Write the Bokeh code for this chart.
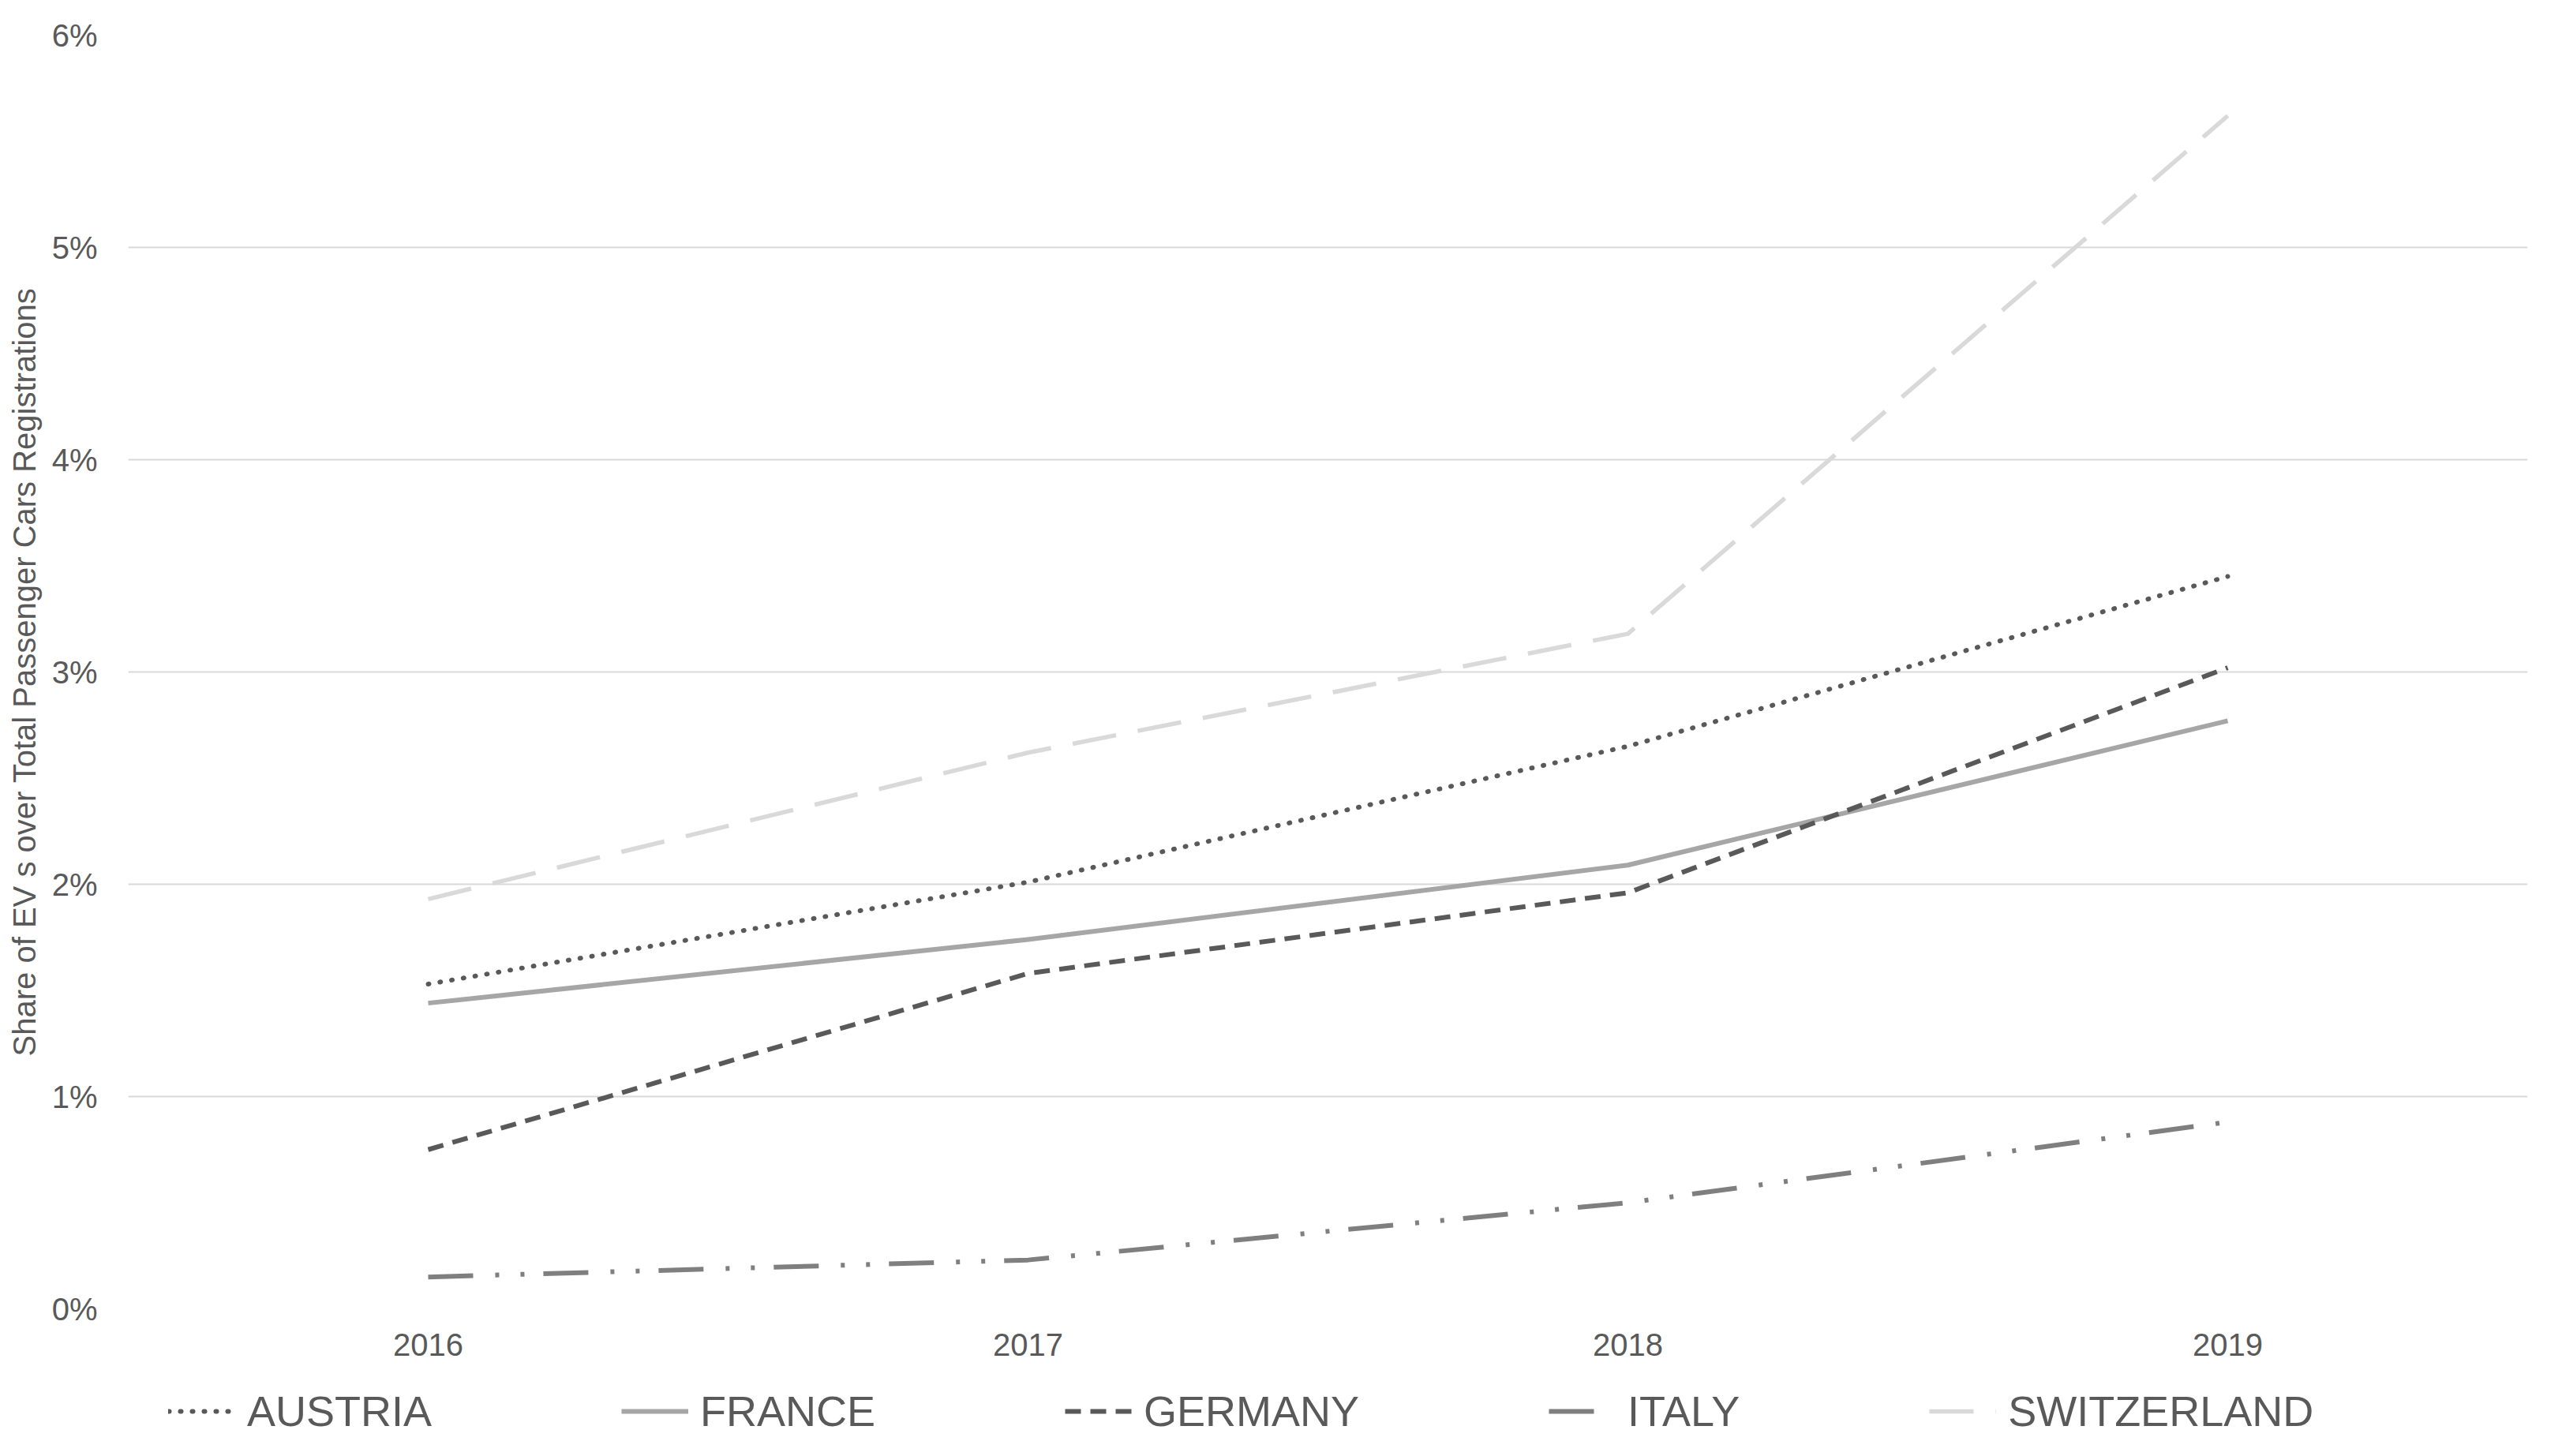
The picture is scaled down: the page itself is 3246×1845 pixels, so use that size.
from bokeh.plotting import figure
from bokeh.layouts import column
from bokeh.models import (Legend, LegendItem, FactorRange, Range1d, FixedTicker,
                          PrintfTickFormatter)
from bokeh.embed import file_html
from bokeh.resources import INLINE

# ---- data (percent share of EVs) ----
years = ["2016", "2017", "2018", "2019"]
austria = [1.53, 2.01, 2.65, 3.45]
france = [1.44, 1.74, 2.09, 2.77]
germany = [0.75, 1.58, 1.96, 3.02]
italy = [0.15, 0.23, 0.50, 0.88]
switzerland = [1.93, 2.62, 3.18, 5.62]
y_ticks = [0, 1, 2, 3, 4, 5, 6]
series_names = ["AUSTRIA", "FRANCE", "GERMANY", "ITALY", "SWITZERLAND"]
y_label = "Share of EV s over Total Passenger Cars Registrations"

FONT = "Liberation Sans"
TXT = "#595959"

W, H1, H2 = 3240, 1740, 100
p = figure(width=W, height=H1, output_backend="svg", toolbar_location=None,
           x_range=FactorRange(*years), y_range=Range1d(0, 6),
           min_border_left=162, min_border_right=38, min_border_top=44,
           min_border_bottom=82)
p.outline_line_color = None
p.background_fill_color = "white"
p.border_fill_color = "white"

# y axis
p.yaxis.ticker = FixedTicker(ticks=y_ticks)
p.yaxis.formatter = PrintfTickFormatter(format="%d%%")
p.yaxis.axis_line_color = None
p.yaxis.major_tick_line_color = None
p.yaxis.minor_tick_line_color = None
p.yaxis.major_label_standoff = 33
p.yaxis.major_label_text_font = FONT
p.yaxis.major_label_text_font_size = "40px"
p.yaxis.major_label_text_color = TXT
p.yaxis.axis_label = y_label
p.yaxis.axis_label_text_font = FONT
p.yaxis.axis_label_text_font_size = "40px"
p.yaxis.axis_label_text_font_style = "normal"
p.yaxis.axis_label_text_color = TXT
p.yaxis.axis_label_standoff = 10

# x axis
p.xaxis.axis_line_color = None
p.xaxis.major_tick_line_color = None
p.xaxis.minor_tick_line_color = None
p.xaxis.major_label_standoff = 25
p.xaxis.major_label_text_font = FONT
p.xaxis.major_label_text_font_size = "40px"
p.xaxis.major_label_text_color = TXT

p.xgrid.grid_line_color = None
p.ygrid.grid_line_color = "#d9d9d9"
p.ygrid.grid_line_width = 2

styles = [
    (austria, "#595959", 6, "1 14", "round"),
    (france, "#a6a6a6", 6, "solid", "butt"),
    (germany, "#595959", 6, "20 12", "butt"),
    (italy, "#7f7f7f", 6, "57 28 5 27 5 24", "butt"),
    (switzerland, "#d9d9d9", 5.5, "56 28", "butt"),
]

# legend strip below the chart (series drawn out of view; only the legend shows)
leg = figure(width=W, height=H2, output_backend="svg", toolbar_location=None,
             x_range=FactorRange(*years), y_range=Range1d(100, 101),
             min_border=0, min_border_left=0, min_border_right=0,
             min_border_top=0, min_border_bottom=0)
leg.axis.visible = False
leg.grid.visible = False
leg.outline_line_color = None
leg.background_fill_color = "white"
leg.border_fill_color = "white"

items = []
for name, (vals, col, lw, dash, cap) in zip(series_names, styles):
    p.line(x=years, y=vals, line_color=col, line_width=lw,
           line_dash=dash, line_cap=cap, line_join="round")
    twin = leg.line(x=years, y=vals, line_color=col, line_width=lw,
                    line_dash=dash, line_cap=cap)
    items.append(LegendItem(label=name, renderers=[twin]))

legend = Legend(items=items, orientation="horizontal",
                location=(51, 21), padding=0, margin=0,
                spacing=240, label_standoff=15, glyph_width=85,
                glyph_height=60, label_height=60,
                label_text_font=FONT, label_text_font_size="54px",
                label_text_color=TXT, border_line_color=None,
                background_fill_alpha=0)
leg.add_layout(legend)

layout = column(p, leg, spacing=0)
open("out.html", "w").write(file_html(layout, INLINE))
